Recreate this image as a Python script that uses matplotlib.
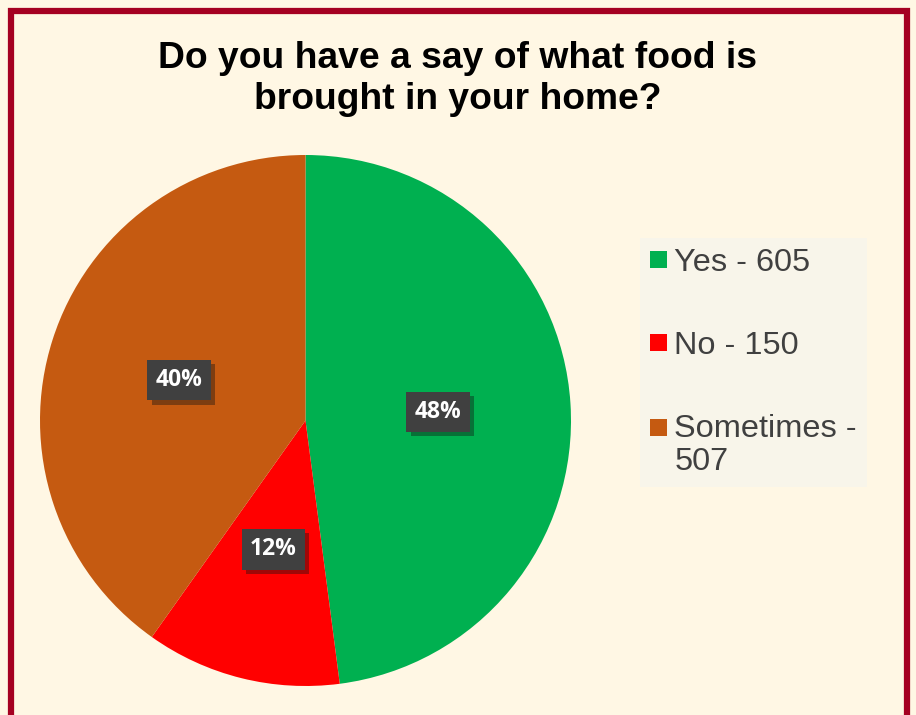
import matplotlib
matplotlib.use("Agg")
import matplotlib.pyplot as plt
from matplotlib.patches import Rectangle
from matplotlib.legend_handler import HandlerPatch
import matplotlib.patheffects as pe

categories = ["Yes", "No", "Sometimes"]
values = [605, 150, 507]
legend_labels = ["Yes - 605", "No - 150", "Sometimes -\n507"]
colors = ["#00B050", "#FF0000", "#C55A11"]
title = "Do you have a say of what food is\nbrought in your home?"

BG = "#FFF7E4"
W, H = 916, 715
fig = plt.figure(figsize=(W / 100, H / 100), dpi=100, facecolor=BG)
plt.rcParams['font.family'] = ['Liberation Sans', 'DejaVu Sans']

# border
fig.patches.append(Rectangle((11 / W, -0.05), (907 - 11) / W, (H - 11) / H + 0.05,
                             transform=fig.transFigure, fill=False,
                             edgecolor="#A50021", linewidth=4.5, zorder=0))

cx, cy, r = 305.5, 420.5, 265.5
ax = fig.add_axes([(cx - r) / W, (H - cy - r) / H, 2 * r / W, 2 * r / H])
ax.set_facecolor("none")
wedges, texts, autotexts = ax.pie(values, colors=colors, startangle=90, counterclock=False,
                                  radius=1, autopct=lambda p: f"{p:.0f}%", pctdistance=0.5,
                                  wedgeprops=dict(linewidth=0),
                                  textprops=dict(color="white", fontsize=16.5, fontweight="bold",
                                                 family=["Open Sans", "DejaVu Sans"]))
ax.set_xlim(-1, 1)
ax.set_ylim(-1, 1)
ax.set_aspect("equal")
for t in autotexts:
    t.set_bbox(dict(boxstyle="square,pad=0.36", facecolor="#404040", edgecolor="none"))
    t.get_bbox_patch().set_path_effects([pe.SimplePatchShadow(offset=(3, -3), alpha=0.4), pe.Normal()])

fig.text(458 / W, 1 - 79 / H, title, ha="center", va="center", fontsize=26.8,
         fontweight="bold", color="black", linespacing=1.19)

LEG_FS = 23.4


class ShiftHandler(HandlerPatch):
    def __init__(self, shift=0.0, **kw):
        super().__init__(**kw)
        self.shift = shift

    def create_artists(self, legend, orig_handle, xdescent, ydescent, width, height, fontsize, trans):
        p = Rectangle((-xdescent, 0.075 * fontsize + self.shift * fontsize),
                      width, width, facecolor=orig_handle.get_facecolor(), edgecolor="none",
                      transform=trans)
        return [p]


handlers = {wedges[0]: ShiftHandler(0), wedges[1]: ShiftHandler(0), wedges[2]: ShiftHandler(0.56)}
leg = fig.legend(wedges, legend_labels, loc="upper left",
                 bbox_to_anchor=(640 / W, 1 - 238 / H), bbox_transform=fig.transFigure,
                 frameon=True, fancybox=False, facecolor="#F8F5EA", edgecolor="none", framealpha=1,
                 fontsize=LEG_FS, labelcolor="#404040", handlelength=0.52, handleheight=0.52,
                 handletextpad=0.24, labelspacing=1.63, borderpad=0.3, borderaxespad=0,
                 handler_map=handlers)
for t in leg.get_texts():
    t.set_linespacing(1.15)

fig.savefig("out.png", dpi=100, facecolor=BG)
